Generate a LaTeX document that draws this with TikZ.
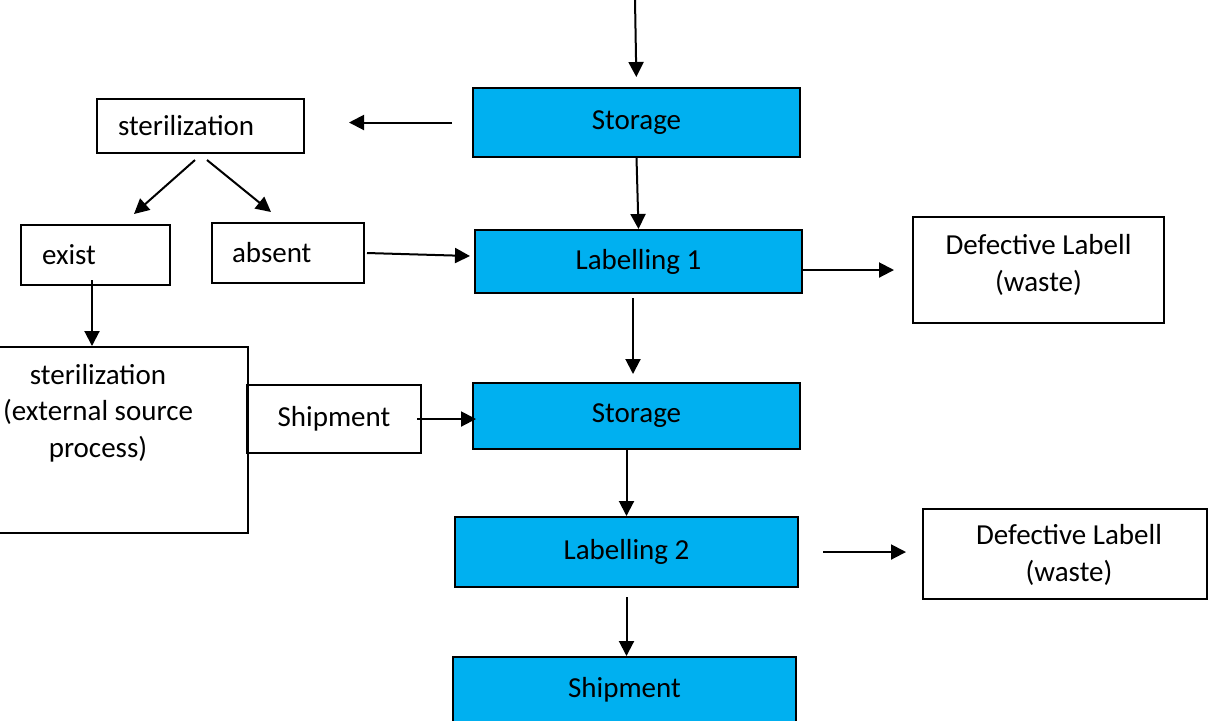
\documentclass[tikz,border=0pt]{standalone}
\usepackage{fontspec}
\setmainfont{Carlito}
\usetikzlibrary{arrows.meta}
\definecolor{procblue}{HTML}{00B0F0}
\begin{document}
\begin{tikzpicture}[x=0.5pt,y=-0.5pt,
  every node/.style={font=\fontsize{14.5}{18.2}\selectfont},
  box/.style={draw, line width=1pt, inner sep=0pt},
  proc/.style={box, fill=procblue},
  arr/.style={line width=1pt, -{Triangle[length=7.5pt,width=7.5pt]}},
  lbl/.style={align=center, inner sep=0pt}
]
\useasboundingbox (0,0) rectangle (1208,720);
\clip (0,0) rectangle (1208,720);

% main column
\node[proc, minimum width=163.5pt, minimum height=34.5pt] (st1) at (636.5,122.5) {Storage};
\node[proc, minimum width=163.5pt, minimum height=31.5pt] (lab1) at (638.5,261.5) {Labelling 1};
\node[proc, minimum width=163.5pt, minimum height=33pt] (st2) at (636.5,416) {Storage};
\node[proc, minimum width=171.5pt, minimum height=35pt] (lab2) at (626.5,552) {Labelling 2};
\node[proc, minimum width=171.5pt, minimum height=32.5pt] (ship) at (624.5,689.5) {Shipment};

% left branch
\node[box, minimum width=103.5pt, minimum height=27pt, text width=82.5pt, align=left] (steril) at (200.5,126) {sterilization};
\node[box, minimum width=74.5pt, minimum height=30pt, text width=53.5pt, align=left] (exist) at (95.5,255) {exist};
\node[box, minimum width=76pt, minimum height=30pt, text width=56pt, align=left] (absent) at (288,253) {absent};
\node[box, minimum width=150pt, minimum height=93pt,
  label={[lbl, yshift=13.5pt]center:{sterilization\\(external source\\process)}}] (ext) at (98,440) {};
\node[box, minimum width=87pt, minimum height=34pt] (shipsmall) at (334,419) {Shipment};

% waste boxes
\node[box, minimum width=125.5pt, minimum height=53pt,
  label={[lbl, yshift=2.5pt]center:{Defective Labell\\(waste)}}] (def1) at (1038.5,270) {};
\node[box, minimum width=142pt, minimum height=45pt,
  label={[lbl, xshift=2pt, yshift=-0.5pt]center:{Defective Labell\\(waste)}}] (def2) at (1065,554) {};

% free start
\coordinate (top) at (635,0);

% connectors
\draw[arr, shorten >=5pt] (top) -- (st1.north);
\draw[arr] (st1.south) -- (lab1.north);
\draw[arr, shorten <=10pt, shorten >=22pt] (st1.west) -- (st1.west -| steril.east);
\draw[arr] ([xshift=-2.75pt,yshift=-3pt]steril.south) -- ([xshift=19.25pt,yshift=5pt]exist.north);
\draw[arr] ([xshift=3.25pt,yshift=-3pt]steril.south) -- ([xshift=-8.5pt,yshift=5pt]absent.north);
\draw[arr] ([xshift=1pt]absent.east) -- ([xshift=-2pt,yshift=2.75pt]lab1.west);
\draw[arr] ([xshift=-1.75pt,yshift=3pt]exist.south) -- ([xshift=-3pt]ext.north);
\draw[arr, shorten >=-2pt] ([xshift=-2.5pt]shipsmall.east) -- (shipsmall.east -| st2.west);
\draw[arr] ([xshift=-2.75pt,yshift=-2pt]lab1.south) -- ([xshift=-1.75pt,yshift=4pt]st2.north);
\draw[arr] (lab2.north |- st2.south) -- (lab2.north);
\draw[arr] ([yshift=-4.5pt]lab2.south) -- (lab2.south |- ship.north);
\draw[arr, shorten >=9pt] (lab1.east |- def1.west) -- (def1.west);
\draw[arr, shorten <=12pt, shorten >=8pt] (lab2.east) -- (lab2.east -| def2.west);
\end{tikzpicture}
\end{document}
